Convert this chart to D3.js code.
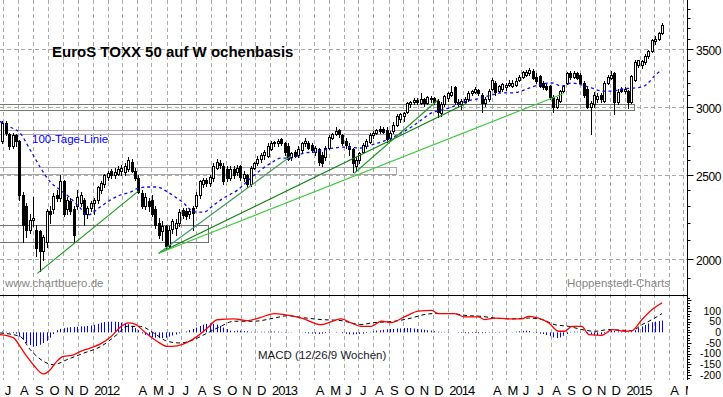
<!DOCTYPE html>
<html><head><meta charset="utf-8">
<script src="https://cdn.jsdelivr.net/npm/d3@7"></script>
<style>
html,body{margin:0;padding:0;background:#fff;}
svg{display:block;font-family:"Liberation Sans",Arial,sans-serif;}
</style></head><body>
<svg id="chart" width="723" height="397"></svg>
<script>
// ---------- DATA (weekly, first week = week of 2011-06-27) ----------
const opens = [
2740,2870,2790,2700,2780,2735,2370,2300,2160,2215,
2160,2150,2040,2090,2270,2283,2370,2350,2458,2283,
2330,2280,2300,2320,2340,2250,2290,2320,2340,2400,
2440,2490,2530,2500,2510,2530,2520,2540,2590,2530,
2480,2380,2300,2330,2340,2280,2200,2150,2180,2070,
2165,2170,2200,2275,2270,2250,2290,2300,2370,2440,
2470,2450,2480,2550,2580,2560,2540,2480,2540,2520,
2560,2480,2500,2440,2550,2580,2610,2640,2630,2680,
2720,2720,2750,2720,2700,2620,2660,2640,2670,2720,
2720,2710,2660,2680,2640,2620,2690,2760,2790,2820,
2780,2740,2700,2680,2560,2600,2660,2700,2730,2780,
2800,2830,2830,2820,2760,2810,2860,2900,2930,2960,
3020,3035,3055,3030,3060,3030,3060,3075,3050,2950,
3020,3070,3100,3160,3040,3020,3040,3060,3110,3120,
3140,3100,3030,3060,3150,3200,3130,3150,3160,3180,
3170,3180,3220,3250,3270,3280,3300,3250,3260,3200,
3170,3170,3080,3000,3050,3130,3200,3280,3250,3280,
3270,3200,3150,3000,3020,3060,3100,3050,3200,3240,
3280,3040,3150,3130,3130,3040,3220,3350,3355,3380,
3440,3480,3580,3600,3650];
const highs = [
2890,2890,2800,2800,2790,2745,2390,2320,2250,2360,
2185,2160,2130,2280,2300,2380,2400,2500,2470,2360,
2350,2300,2400,2390,2350,2300,2330,2350,2430,2460,
2510,2530,2540,2550,2560,2570,2580,2620,2610,2550,
2500,2400,2380,2350,2370,2300,2230,2210,2190,2180,
2220,2220,2280,2290,2290,2290,2300,2390,2470,2480,
2480,2500,2580,2610,2600,2580,2560,2560,2560,2570,
2570,2530,2510,2560,2590,2630,2650,2670,2720,2740,
2740,2750,2760,2730,2720,2660,2670,2700,2730,2760,
2740,2720,2700,2690,2660,2700,2780,2800,2840,2830,
2790,2760,2720,2690,2620,2660,2720,2750,2800,2810,
2830,2850,2840,2840,2810,2880,2940,2950,2960,3040,
3050,3070,3070,3110,3070,3090,3085,3080,3060,3040,
3100,3120,3170,3170,3060,3060,3080,3130,3140,3160,
3150,3110,3080,3150,3240,3210,3180,3200,3200,3220,
3220,3240,3270,3300,3310,3330,3320,3280,3270,3210,
3190,3180,3100,3080,3140,3180,3290,3300,3300,3290,
3280,3210,3160,3050,3120,3110,3110,3210,3270,3300,
3290,3150,3160,3160,3140,3270,3400,3400,3400,3450,
3490,3600,3620,3660,3750];
const lows = [
2720,2780,2680,2690,2700,2340,2090,2120,2140,2180,
2015,1935,1990,2060,2200,2260,2330,2330,2240,2250,
2250,2090,2280,2300,2190,2230,2270,2250,2320,2380,
2420,2470,2480,2480,2500,2500,2500,2530,2520,2470,
2380,2290,2280,2270,2240,2170,2110,2100,2050,2060,
2140,2130,2180,2230,2220,2230,2160,2290,2350,2420,
2430,2430,2460,2540,2550,2440,2460,2470,2480,2500,
2470,2460,2420,2430,2540,2570,2590,2610,2620,2670,
2700,2700,2710,2640,2600,2600,2620,2620,2660,2700,
2680,2660,2640,2570,2560,2600,2680,2750,2780,2770,
2710,2690,2640,2520,2530,2580,2650,2690,2720,2760,
2790,2800,2800,2730,2740,2800,2850,2880,2890,2950,
3000,3020,3020,3020,3010,3020,3040,3020,2920,2930,
3010,3050,3090,3020,3010,2980,3030,3050,3100,3110,
3100,2960,3010,3050,3140,3100,3120,3130,3140,3170,
3160,3170,3210,3240,3260,3270,3230,3200,3160,3150,
3140,3060,2960,2990,3040,3120,3190,3230,3240,3230,
3190,3080,2990,2790,3000,3040,3040,3040,3190,3230,
2940,3020,3120,3110,2990,3030,3210,3340,3330,3360,
3420,3470,3545,3590,3640];
const closes = [
2870,2800,2700,2780,2735,2370,2190,2160,2215,2230,
2055,2040,2120,2270,2250,2362,2350,2460,2250,2340,
2270,2130,2360,2370,2250,2290,2320,2340,2420,2450,
2500,2515,2500,2520,2540,2550,2560,2600,2530,2480,
2390,2300,2360,2300,2250,2190,2130,2180,2070,2160,
2210,2200,2265,2245,2240,2270,2260,2370,2460,2465,
2445,2490,2560,2590,2570,2460,2480,2540,2500,2550,
2490,2510,2440,2550,2580,2610,2640,2660,2700,2720,
2730,2740,2720,2660,2610,2650,2630,2680,2720,2740,
2690,2670,2690,2590,2580,2690,2765,2790,2810,2790,
2720,2710,2680,2580,2600,2650,2710,2740,2780,2800,
2820,2810,2805,2750,2800,2860,2930,2940,2950,3030,
3040,3055,3035,3060,3030,3080,3075,3040,2960,3020,
3085,3110,3120,3040,3020,3045,3065,3110,3130,3150,
3110,3030,3060,3130,3220,3120,3170,3190,3180,3200,
3200,3215,3250,3290,3290,3310,3240,3210,3170,3160,
3150,3080,3000,3060,3130,3170,3280,3250,3280,3240,
3200,3100,3000,3030,3100,3090,3060,3200,3250,3270,
3040,3120,3130,3150,3040,3260,3380,3395,3390,3440,
3480,3590,3600,3650,3730];

// 100-Tage-Linie (week index / value)
const maWeeks  = [-0.7,2.3,5.2,8.2,11.1,14.1,17,20,22.9,25,28.8,31.8,34.7,37.7,40,42.7,45.6,48.6,51,53.3,55.4,57.4,59.2,62.2,65.1,69.2,73.1,76,79,81.9,84.9,88.7,91.7,94.6,97.6,101.1,105.5,108.5,111.4,114.4,117.3,120.3,123.2,126.2,129.1,132.1,135,138,140.9,143.9,146.8,149.8,152.7,155.7,158.6,161.6,164.5,167.5,170.4,173.4,176.3,179.3,182.2,185.2,188.1,190.2,192,194];
const maValues = [2885,2842,2797,2673,2554,2454,2402,2351,2289,2246,2295,2339,2370,2389,2414,2421,2421,2389,2355,2320,2277,2264,2264,2308,2351,2402,2480,2534,2581,2616,2616,2651,2658,2673,2687,2694,2687,2709,2731,2760,2797,2842,2896,2951,2974,2998,3031,3055,3071,3096,3113,3113,3129,3163,3188,3197,3171,3197,3180,3154,3129,3129,3146,3154,3163,3205,3266,3310];

// MACD (12/26/9)
const macdWeeks  = [-0.7,3.3,5.2,7.2,9.1,12.1,14.1,16,18,20.5,23,26,29,32,35,37,39,41.6,45.5,48.5,51.4,54.4,57.3,60.3,63.2,68.1,72,76,80,83,88,93.7,97.6,99.6,102.6,105.5,108.5,111.4,114.4,118.2,122.3,126.2,128.2,133,135.9,140,141.8,144.7,148.9,152.7,154.8,157.7,160.7,163.6,165.4,167.5,170.4,172.5,176.3,179.3,183.1,185.2,188.1,191.1,194];
const macdValues = [-11,-26,-66,-113,-152,-195,-175,-136,-113,-108,-89,-73,-53,-19,28,44,39,5,-42,-66,-63,-47,-19,20,59,63,55,70,88,83,67,36,55,63,44,28,28,52,46,72,99,103,88,88,72,72,60,67,63,63,75,67,44,5,5,28,28,-11,-14,13,5,8,60,107,138];
const signalWeeks  = [-0.7,5.2,8.2,12.1,15,19,24,29,33.7,36.7,40.6,44.5,48.5,52.4,56.3,60.3,64.2,68.1,74,80,83.9,87.8,93.7,99.6,105.5,108.5,115.2,120.3,124,127,132,137,140.9,144.7,149.8,154.8,158.7,162.5,166.6,170.4,174.3,178.4,182.2,185.2,188.1,191.1,194];
const signalValues = [-3,-19,-81,-136,-152,-128,-97,-66,-11,28,28,-3,-42,-50,-34,-3,28,52,52,67,78,70,60,55,36,44,52,67,83,88,88,78,75,67,63,67,60,36,28,13,5,13,10,8,36,60,88];
const histValues = [
4,3,-2,-4,-6,-20,-35,-50,-60,-66,
-64,-58,-50,-40,-25,-8,10,16,20,22,
24,25,26,28,28,30,32,35,40,45,
48,50,50,50,48,45,42,38,30,20,
10,-5,-12,-18,-22,-25,-27,-27,-25,-20,
-15,-10,-5,0,4,10,16,22,30,36,
40,42,40,36,30,22,15,8,6,8,
8,6,5,3,2,2,3,3,3,4,
4,3,2,2,1,1,0,0,1,-3,
-5,-6,-7,-8,-6,-4,-2,0,2,0,
-4,-7,-9,-10,-9,-8,-6,-3,2,5,
8,10,12,14,15,16,18,18,20,20,
20,18,16,14,12,10,8,5,3,2,
2,1,0,0,-2,-3,-4,-4,-3,-3,
-4,-4,-3,-2,-1,-2,-2,-1,-1,0,
1,3,5,7,8,6,2,-3,-6,-8,
-12,-18,-24,-27,-24,-16,-8,2,3,3,
2,1,-3,-8,-14,-13,-10,-4,4,8,
6,4,3,2,3,5,10,20,28,35,
42,47,50,53,55];

// support zones (week index from/to, price low/high)
const zoneStart = [-1,-1,-1,-1];
const zoneEnd   = [185.8,117.8,115.8,60.6];
const zoneLow   = [2974,2787,2505,2089];
const zoneHigh  = [3022,2823,2552,2187];

// trend lines (week index / price)
const trendStartWeek  = [10.3,46.0,46.0,46.0,103.5];
const trendStartPrice = [1922,2028,2028,2028,2512];
const trendEndWeek    = [40.1,84.9,136.5,165.1,128.1];
const trendEndPrice   = [2396,2630,3028,3109,3055];

// axes
const priceMajorTicks = [2000,2500,3000,3500];
const priceMinorTicks = [1900,2000,2100,2200,2300,2400,2500,2600,2700,2800,2900,3000,3100,3200,3300,3400,3500,3600,3700,3800,3900];
const macdTicks = [100,50,0,-50,-100,-150,-200];
const monthLetters = ["J","F","M","A","M","J","J","A","S","O","N","D"];
const hiddenMonths = [1,2];

// ---------- SCALES ----------
const DAY = 864e5;
const week0 = Date.UTC(2011,5,29);
const weekDate = i => new Date(week0 + i*7*DAY);
const x = d3.scaleUtc().domain([new Date(Date.UTC(2012,0,1)), new Date(Date.UTC(2015,0,1))]).range([92.7, 625.1]);
const y = d3.scaleLog().domain([2000,3500]).range([258.5,49.1]);
const ym = d3.scaleLinear().domain([-200,100]).range([375,311]);
const xi = i => x(weekDate(i));

const AXX = 687.5, MAINB = 295, MACDB = 380;
const svg = d3.select("#chart");
const defs = svg.append("defs");
defs.append("clipPath").attr("id","cMain").append("rect").attr("x",0).attr("y",0).attr("width",687).attr("height",MAINB);
defs.append("clipPath").attr("id","cMacd").append("rect").attr("x",0).attr("y",MAINB).attr("width",687).attr("height",MACDB-MAINB);
defs.append("clipPath").attr("id","cLab").append("rect").attr("x",0).attr("y",MACDB).attr("width",688).attr("height",20);

// ---------- GRID ----------
const months = d3.utcMonth.range(new Date(Date.UTC(2011,6,1)), new Date(Date.UTC(2015,5,2)));
const grid = svg.append("g").attr("stroke","#aaaaaa").attr("stroke-dasharray","4,3").attr("stroke-width",1);
months.forEach(m => {
  const gx = Math.round(x(m)) + 0.5;
  if (gx < AXX - 1) grid.append("line").attr("x1",gx).attr("x2",gx).attr("y1",0).attr("y2",MACDB);
});
priceMajorTicks.forEach(v => {
  const gy = Math.round(y(v)) + 0.5;
  grid.append("line").attr("x1",0).attr("x2",AXX).attr("y1",gy).attr("y2",gy);
});

// ---------- MAIN PANEL ----------
const main = svg.append("g").attr("clip-path","url(#cMain)");
const zoneColors = ["#6e7e6e","#b0a4b0","#a8a8a8","#707070"];
zoneStart.forEach((s,k) => {
  const x0 = Math.round(xi(s)) + 0.5, x1 = Math.round(xi(zoneEnd[k])) + 0.5;
  const y0 = Math.round(y(zoneHigh[k])) + 0.5, y1 = Math.round(y(zoneLow[k])) + 0.5;
  main.append("rect").attr("x",x0).attr("y",y0).attr("width",x1-x0).attr("height",y1-y0)
    .attr("fill","none").attr("stroke",zoneColors[k]).attr("stroke-width",1);
});

const candles = main.append("g");
closes.forEach((c,i) => {
  const o = opens[i], cx = Math.round(xi(i));
  candles.append("line").attr("x1",cx+0.5).attr("x2",cx+0.5)
    .attr("y1",Math.round(y(highs[i]))).attr("y2",Math.round(y(lows[i]))+1)
    .attr("stroke","#000").attr("stroke-width",1);
  const top = Math.round(y(Math.max(o,c))), bot = Math.round(y(Math.min(o,c)));
  candles.append("rect").attr("x",cx-0.5).attr("width",2)
    .attr("y",top+0.5).attr("height",Math.max(1,bot-top))
    .attr("fill", c >= o ? "#fff" : "#000").attr("stroke","#000").attr("stroke-width",1);
});

main.append("path")
  .attr("d", d3.line().x(d=>xi(d)).y((d,k)=>y(maValues[k])).curve(d3.curveMonotoneX)(maWeeks))
  .attr("fill","none").attr("stroke","#0a0aff").attr("stroke-width",1.3).attr("stroke-dasharray","3,3");

const trendColors = ["#159a15","#3a9a64","#0b820b","#3acb3a","#1f9a1f"];
trendStartWeek.forEach((s,k) => {
  main.append("line")
    .attr("x1",xi(s)).attr("y1",y(trendStartPrice[k]))
    .attr("x2",xi(trendEndWeek[k])).attr("y2",y(trendEndPrice[k]))
    .attr("stroke",trendColors[k]).attr("stroke-width",1.1);
});

// ---------- MACD PANEL ----------
const mp = svg.append("g").attr("clip-path","url(#cMacd)");
histValues.forEach((v,i) => {
  const cx = Math.round(xi(i)) + 0.5;
  mp.append("line").attr("x1",cx).attr("x2",cx).attr("y1",ym(0)).attr("y2",ym(v))
    .attr("stroke","#0000ff").attr("stroke-width",1);
});
mp.append("path")
  .attr("d", d3.line().x(d=>xi(d)).y((d,k)=>ym(signalValues[k])).curve(d3.curveMonotoneX)(signalWeeks))
  .attr("fill","none").attr("stroke","#000").attr("stroke-width",1).attr("stroke-dasharray","4,3");
mp.append("path")
  .attr("d", d3.line().x(d=>xi(d)).y((d,k)=>ym(macdValues[k])).curve(d3.curveMonotoneX)(macdWeeks))
  .attr("fill","none").attr("stroke","#ff0000").attr("stroke-width",1.3);

// ---------- FRAME & AXES ----------
svg.append("line").attr("x1",0).attr("x2",AXX).attr("y1",MAINB+0.5).attr("y2",MAINB+0.5).attr("stroke","#000");
svg.append("line").attr("x1",AXX).attr("x2",AXX).attr("y1",0).attr("y2",MACDB).attr("stroke","#000");

const ax = svg.append("g");
priceMinorTicks.forEach(v => {
  const ty = Math.round(y(v)) + 0.5;
  if (ty > 0 && ty < MAINB) ax.append("line").attr("x1",AXX).attr("x2",AXX+3).attr("y1",ty).attr("y2",ty).attr("stroke","#000");
});
priceMajorTicks.forEach(v => {
  const ty = Math.round(y(v)) + 0.5;
  ax.append("line").attr("x1",AXX).attr("x2",AXX+6).attr("y1",ty).attr("y2",ty).attr("stroke","#000");
  ax.append("text").attr("x",721).attr("y",ty+5.5).attr("text-anchor","end")
    .attr("font-size","12px").attr("letter-spacing","-0.4px").attr("fill","#000").text(v);
});
d3.range(-225, 175, 12.5).forEach(v => {
  const ty = Math.round(ym(v)) + 0.5;
  if (ty > MAINB + 1 && ty <= MACDB) ax.append("line").attr("x1",AXX).attr("x2",AXX+ (v % 50 === 0 ? 4 : 2.5)).attr("y1",ty).attr("y2",ty).attr("stroke","#000");
});
macdTicks.forEach(v => {
  ax.append("text").attr("x",721).attr("y",ym(v)+3.5).attr("text-anchor","end")
    .attr("font-size","10.5px").attr("fill","#000").text(v);
});

const lab = svg.append("g").attr("clip-path","url(#cLab)");
months.forEach(m => {
  const mi = m.getUTCMonth();
  if (hiddenMonths.includes(mi)) return;
  const t = mi === 0 ? String(m.getUTCFullYear()) : monthLetters[mi];
  lab.append("text").attr("x",x(m)+1.5).attr("y",395).attr("font-size","13px")
    .attr("letter-spacing","-1px").attr("fill","#000").text(t);
});

// ---------- TEXTS ----------
svg.append("text").attr("x",52).attr("y",56.5).attr("font-size","15px").attr("font-weight","bold")
  .attr("fill","#000").text("EuroS TOXX 50 auf W ochenbasis");
svg.append("text").attr("x",32).attr("y",142.5).attr("font-size","11.5px").attr("fill","#0000ff").text("100-Tage-Linie");
svg.append("text").attr("x",5).attr("y",286.5).attr("font-size","11.5px").attr("fill","#858585").text("www.chartbuero.de");
svg.append("text").attr("x",567).attr("y",286.5).attr("font-size","11.5px").attr("fill","#858585").text("Hoppenstedt-Charts");
svg.append("text").attr("x",258).attr("y",359).attr("font-size","11.5px").attr("fill","#1a1a2a").text("MACD (12/26/9 Wochen)");
</script>
</body></html>
